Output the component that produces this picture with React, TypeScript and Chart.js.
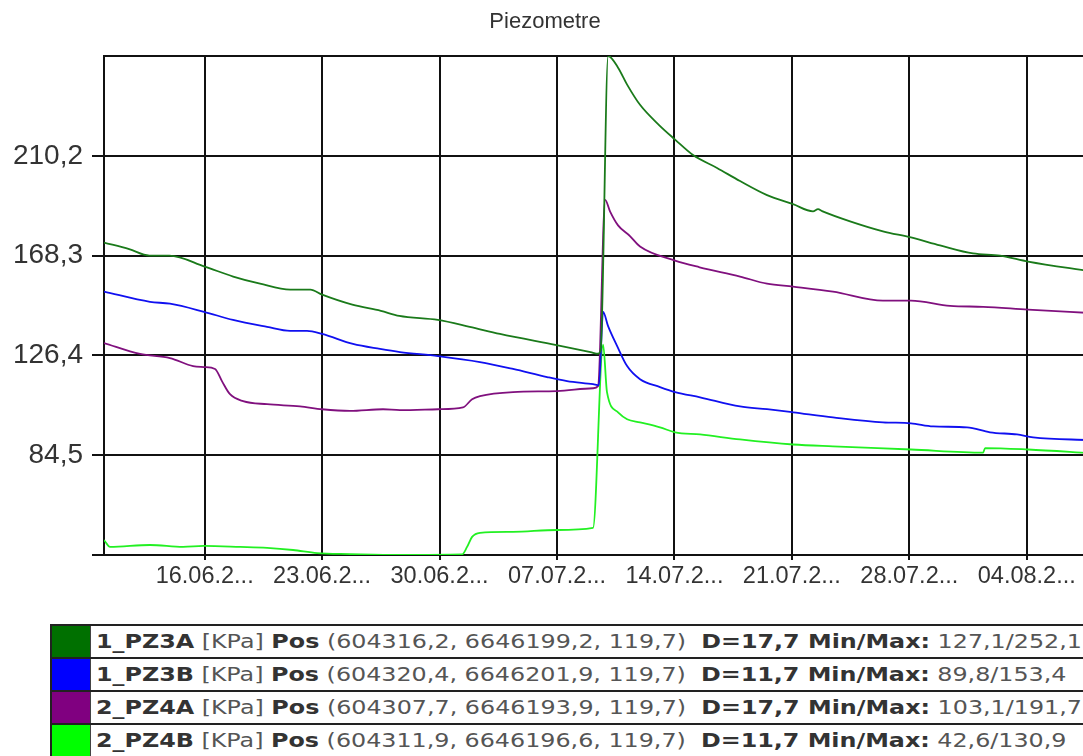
import React, { useEffect, useRef } from 'react';
import { Chart, registerables } from 'chart.js';

Chart.register(...registerables);

const chartTitle = 'Piezometre';

// x axis: day number (16 = 16.06, 37 = 07.07, 65 = 04.08)
const xMinDay = 10;
const xMaxDay = 68.77;
const xTickDays = [16, 23, 30, 37, 44, 51, 58, 65];
const xTickLabels = ['16.06.2...', '23.06.2...', '30.06.2...', '07.07.2...', '14.07.2...', '21.07.2...', '28.07.2...', '04.08.2...'];

const yTickValues = [42.6, 84.5, 126.4, 168.3, 210.2, 252.1];

const pz3aDays = [10.0, 11.5, 12.7, 13.9, 16.0, 17.7, 19.3, 21.1, 22.3, 23.0, 24.8, 26.5, 27.6, 29.9, 31.8, 33.6, 36.9, 39.0, 39.45, 39.6, 40.05, 40.64, 41.18, 41.95, 43.1, 44.04, 45.11, 46.54, 47.91, 49.52, 51.07, 52.26, 52.56, 52.8, 54.47, 56.43, 58.1, 59.83, 61.8, 63.41, 65.08, 68.8];
const pz3aValues = [173.8, 171.0, 168.3, 168.3, 163.7, 159.5, 156.5, 154.0, 154.0, 151.9, 147.7, 145.1, 143.0, 141.3, 138.4, 135.4, 130.8, 127.8, 127.1, 128.5, 252.1, 247.2, 240.1, 231.6, 223.0, 217.0, 210.5, 205.1, 199.6, 193.7, 189.9, 186.9, 187.8, 187.0, 182.7, 178.5, 175.9, 172.6, 169.2, 168.3, 165.8, 161.7];

const pz3bDays = [10.0, 12.74, 13.93, 15.96, 17.69, 19.72, 21.09, 22.1, 23.0, 24.84, 26.45, 27.64, 29.91, 32.41, 34.38, 36.41, 37.6, 39.15, 39.5, 39.75, 40.04, 40.58, 41.18, 41.95, 43.14, 44.04, 45.53, 47.91, 49.52, 51.07, 53.45, 56.43, 58.1, 59.42, 61.44, 62.81, 64.42, 65.38, 68.8];
const pz3bValues = [153.2, 148.9, 148.1, 144.7, 141.3, 138.4, 136.7, 136.7, 135.4, 131.2, 129.1, 127.8, 126.1, 123.6, 120.7, 117.3, 115.6, 114.3, 113.9, 144.7, 138.8, 130.4, 121.9, 116.4, 113.1, 111.0, 108.8, 105.0, 103.8, 102.5, 100.4, 98.3, 97.9, 96.6, 96.2, 94.1, 93.2, 92.0, 90.8];

const pz4aDays = [10.0, 12.15, 13.93, 15.31, 15.96, 16.62, 17.03, 17.51, 18.29, 19.72, 21.68, 23.0, 24.66, 26.63, 27.64, 29.91, 31.4, 31.94, 32.41, 34.38, 37.0, 39.15, 39.45, 39.87, 40.16, 40.64, 41.35, 41.95, 44.04, 45.5, 47.91, 49.52, 51.07, 53.45, 56.43, 58.1, 60.43, 62.4, 65.08, 68.8];
const pz4aValues = [131.6, 127.0, 125.3, 121.9, 121.5, 120.7, 115.6, 110.1, 107.2, 105.9, 105.0, 103.8, 103.1, 103.8, 103.4, 103.8, 104.6, 108.0, 109.3, 111.0, 111.4, 112.6, 113.5, 191.7, 186.9, 181.0, 176.5, 172.1, 166.2, 163.4, 159.5, 156.5, 155.3, 153.2, 149.4, 149.4, 147.2, 146.8, 145.6, 144.2];

const pz4bDays = [10.0, 10.36, 12.74, 14.71, 15.96, 18.11, 19.72, 21.27, 22.7, 24.66, 27.64, 31.34, 31.64, 31.94, 32.41, 34.38, 37.0, 39.15, 39.75, 39.98, 40.64, 41.18, 41.95, 43.14, 44.04, 45.53, 47.91, 51.07, 53.45, 58.1, 62.4, 62.52, 65.08, 68.8];
const pz4bValues = [48.9, 46.0, 46.8, 46.0, 46.4, 46.0, 45.6, 44.7, 43.4, 43.0, 42.6, 42.8, 46.0, 50.2, 51.9, 52.3, 53.1, 54.0, 130.9, 111.0, 102.5, 99.6, 98.3, 96.2, 94.1, 93.2, 91.1, 89.0, 88.2, 86.9, 85.6, 87.5, 86.9, 85.4];

const seriesNames = ['1_PZ3A', '1_PZ3B', '2_PZ4A', '2_PZ4B'];
const seriesColors = ['#007000', '#0000ff', '#800080', '#00ff00'];
const lineColors = ['#1a7a1a', '#1010f0', '#80107e', '#22f022'];
const seriesUnits = ['[KPa]', '[KPa]', '[KPa]', '[KPa]'];
const seriesPos = ['(604316,2, 6646199,2, 119,7)', '(604320,4, 6646201,9, 119,7)', '(604307,7, 6646193,9, 119,7)', '(604311,9, 6646196,6, 119,7)'];
const seriesDepth = ['17,7', '11,7', '17,7', '11,7'];
const seriesMinMax = ['127,1/252,1', '89,8/153,4', '103,1/191,7', '42,6/130,9'];

const seriesDays = [pz3aDays, pz3bDays, pz4aDays, pz4bDays];
const seriesValues = [pz3aValues, pz3bValues, pz4aValues, pz4bValues];

const CANVAS_W = 1090;
const CANVAS_H = 600;

function fmt(v: number) {
  return v.toFixed(1).replace('.', ',');
}

export default function App() {
  const canvasRef = useRef<HTMLCanvasElement | null>(null);

  useEffect(() => {
    const canvas = canvasRef.current;
    if (!canvas) return;
    const yMin = yTickValues[0];
    const yMax = yTickValues[yTickValues.length - 1];
    const chart = new Chart(canvas, {
      type: 'line',
      data: {
        datasets: seriesNames.map((name, i) => ({
          label: name,
          data: seriesDays[i].map((d, j) => ({ x: d, y: seriesValues[i][j] })),
          borderColor: lineColors[i],
          backgroundColor: seriesColors[i],
          borderWidth: 1.8,
          pointRadius: 0,
          cubicInterpolationMode: 'monotone',
          fill: false,
        })),
      },
      options: {
        responsive: false,
        animation: false,
        devicePixelRatio: 1,
        layout: { padding: { left: 0, right: 0, top: 0, bottom: 0 } },
        plugins: {
          legend: { display: false },
          tooltip: { enabled: false },
          title: {
            display: true,
            text: chartTitle,
            color: '#333',
            font: { family: '"Liberation Sans", Arial, sans-serif', size: 22, weight: 'normal' },
            padding: { top: 8.8, bottom: 20.8 },
          },
        },
        scales: {
          x: {
            type: 'linear',
            min: xMinDay,
            max: xMaxDay,
            afterBuildTicks: (scale: any) => {
              scale.ticks = xTickDays.map((v) => ({ value: v }));
            },
            afterFit: (scale: any) => {
              scale.height = 45;
            },
            ticks: {
              autoSkip: false,
              maxRotation: 0,
              padding: 2,
              color: '#333',
              font: { family: '"Liberation Sans", Arial, sans-serif', size: 23.5 },
              callback: (value: any) => {
                const k = xTickDays.indexOf(Number(value));
                return k >= 0 ? xTickLabels[k] : '';
              },
            },
            grid: { color: '#111', lineWidth: 2, tickLength: 5, drawTicks: true },
            border: { display: true, color: '#111', width: 2 },
          },
          y: {
            type: 'linear',
            min: yMin,
            max: yMax,
            afterBuildTicks: (scale: any) => {
              scale.ticks = yTickValues.map((v) => ({ value: v }));
            },
            afterFit: (scale: any) => {
              scale.width = 104;
            },
            ticks: {
              padding: 9,
              color: '#333',
              font: { family: '"Liberation Sans", Arial, sans-serif', size: 28 },
              callback: (value: any) => {
                const v = Number(value);
                if (v === yMin || v === yMax) return '';
                return fmt(v);
              },
            },
            grid: {
              color: '#111',
              lineWidth: 2,
              tickLength: 12,
              tickColor: (ctx: any) => (ctx.tick && ctx.tick.value === yMax ? 'rgba(0,0,0,0)' : '#111'),
            },
            border: { display: true, color: '#111', width: 2 },
          },
        },
      },
    });
    return () => chart.destroy();
  }, []);

  const boldStyle: React.CSSProperties = { fontWeight: 'bold', color: '#333' };
  const normStyle: React.CSSProperties = { color: '#555' };

  return (
    <div style={{ position: 'fixed', left: 0, top: 0, width: 1083, height: 756, overflow: 'hidden', background: '#fff' }}>
      <div style={{ position: 'absolute', left: 0, top: 0, width: CANVAS_W, height: CANVAS_H }}>
        <canvas ref={canvasRef} width={CANVAS_W} height={CANVAS_H} style={{ width: CANVAS_W, height: CANVAS_H, display: 'block' }} />
      </div>
      <div style={{ position: 'absolute', left: 50, top: 624, width: 1100, borderLeft: '2px solid #222' }}>
        {seriesNames.map((name, i) => (
          <div key={name} style={{ display: 'flex', alignItems: 'center', height: 31, borderTop: '2px solid #222' }}>
            <div style={{ width: 38, height: '100%', background: seriesColors[i], borderRight: '1px solid #444', flex: '0 0 auto' }} />
            <div
              style={{
                marginLeft: 5,
                whiteSpace: 'pre',
                fontFamily: '"DejaVu Sans", Verdana, sans-serif',
                fontSize: 20,
                transform: 'scaleX(1.19)',
                transformOrigin: 'left center',
                lineHeight: '31px',
              }}
            >
              <span style={boldStyle}>{name}</span>
              <span style={normStyle}>{' ' + seriesUnits[i] + ' '}</span>
              <span style={boldStyle}>Pos</span>
              <span style={normStyle}>{' ' + seriesPos[i] + '  '}</span>
              <span style={boldStyle}>{'D=' + seriesDepth[i] + ' Min/Max:'}</span>
              <span style={normStyle}>{' ' + seriesMinMax[i]}</span>
            </div>
          </div>
        ))}
      </div>
    </div>
  );
}
